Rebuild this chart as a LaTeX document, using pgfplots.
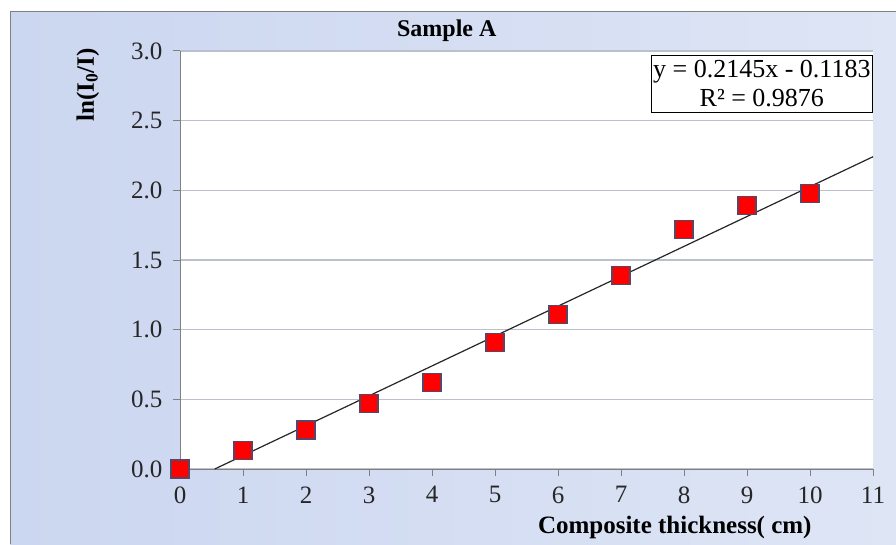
\documentclass[border=0pt]{standalone}
\usepackage{pgfplots}
\pgfplotsset{compat=1.18}
\usepackage{fontspec}
\setmainfont{Liberation Serif}
\definecolor{bgL}{RGB}{203,214,240}
\definecolor{bgR}{RGB}{222,229,245}
\definecolor{axgray}{RGB}{128,128,128}
\definecolor{gridgray}{RGB}{186,192,204}
\definecolor{mkborder}{RGB}{90,70,100}
\begin{document}
\begin{tikzpicture}[x=1pt,y=1pt]
\path[use as bounding box] (0,0) rectangle (896,544);
\shade[left color=bgL, right color=bgR] (10,0) rectangle (896,532);
\draw[axgray, line width=1pt] (10,0) -- (10,532) -- (896,532);
\begin{axis}[
  at={(180pt,75pt)}, anchor=south west,
  scale only axis, width=693pt, height=418pt,
  xmin=0, xmax=11, ymin=0, ymax=3,
  xtick={0,1,...,11}, ytick={0,0.5,1,1.5,2,2.5,3},
  yticklabel style={/pgf/number format/fixed, /pgf/number format/fixed zerofill, /pgf/number format/precision=1, xshift=-7pt},
  xticklabel style={yshift=-7pt},
  /pgf/number format/assume math mode=true,
  ticklabel style={font=\fontsize{25}{28}\selectfont, text=black!85},
  axis x line*=bottom, axis y line*=left,
  axis line style={axgray, line width=1pt},
  tick align=outside, major tick length=7pt,
  tick style={axgray, line width=1pt},
  ymajorgrids, major grid style={gridgray, line width=1.6pt},
  axis background/.style={fill=white},
  clip=false,
]
\addplot[only marks, mark=square*, mark size=9pt, mark options={fill=red, draw=mkborder, line width=1.2pt}]
coordinates {(0,0) (1,0.13) (2,0.28) (3,0.47) (4,0.62) (5,0.91) (6,1.11) (7,1.39) (8,1.72) (9,1.89) (10,1.98)};
\addplot[black!85, line width=1.2pt] coordinates {(0.5515,0) (11,2.2412)};
\node[draw=black, fill=white, align=center, anchor=north east, inner xsep=2pt, inner ysep=5pt, line width=1pt, font=\fontsize{26}{29}\selectfont] at (rel axis cs:1,0.99) {y = 0.2145x - 0.1183\\R² = 0.9876};
\node[font=\fontsize{24}{28}\selectfont\bfseries] at (rel axis cs:0.385,1.048) {Sample A};
\node[font=\fontsize{25}{28}\selectfont\bfseries] at (rel axis cs:0.714,-0.141) {Composite thickness( cm)};
\node[font=\fontsize{25}{28}\selectfont\bfseries, rotate=90] at (rel axis cs:-0.133,0.919) {ln(I\textsubscript{0}/I)};
\end{axis}
\end{tikzpicture}
\end{document}
